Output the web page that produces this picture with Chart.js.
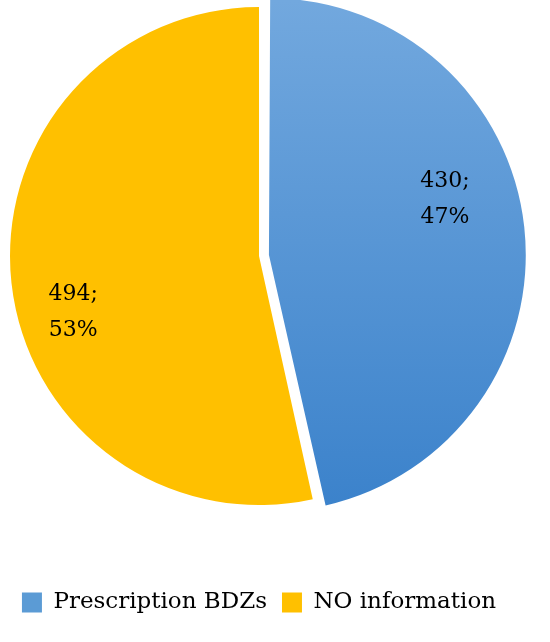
<!DOCTYPE html>
<html>
<head>
<meta charset="utf-8">
<script src="https://cdn.jsdelivr.net/npm/chart.js@4/dist/chart.umd.min.js"></script>
<style>
  html, body { margin: 0; padding: 0; background: #fff; }
</style>
</head>
<body>
<canvas id="pie" width="550" height="642"></canvas>
<script>
// data
const categories = ['Prescription BDZs', 'NO information'];
const counts = [430, 494];
const percents = [47, 53];

const legendColors = ['#5b9bd5', '#ffc000'];
const FONT = '"DejaVu Serif", "Liberation Serif", serif';

// blue slice has a soft top-to-bottom gradient
const sliceFill = (ctx) => {
  if (ctx.dataIndex !== 0) return legendColors[1];
  const area = ctx.chart.chartArea;
  if (!area) return legendColors[0];
  const g = ctx.chart.ctx.createLinearGradient(0, area.top, 0, area.bottom);
  g.addColorStop(0, '#72a8de');
  g.addColorStop(1, '#3b82cb');
  return g;
};

// "430;" / "47%" labels inside each slice
const sliceLabels = {
  id: 'sliceLabels',
  afterDatasetsDraw(chart) {
    const meta = chart.getDatasetMeta(0);
    const c = chart.ctx;
    c.save();
    c.font = '22px ' + FONT;
    c.fillStyle = '#000';
    c.textAlign = 'center';
    c.textBaseline = 'middle';
    meta.data.forEach((arc, i) => {
      const p = arc.getProps(['x', 'y', 'startAngle', 'endAngle', 'outerRadius'], true);
      const mid = (p.startAngle + p.endAngle) / 2 - 0.185;
      const r = p.outerRadius * 0.78;
      const lx = p.x + Math.cos(mid) * r;
      const ly = p.y + Math.sin(mid) * r;
      c.fillText(counts[i] + ';', lx, ly - 18);
      c.fillText(percents[i] + '%', lx, ly + 18);
    });
    c.restore();
  }
};

new Chart(document.getElementById('pie').getContext('2d'), {
  type: 'pie',
  data: {
    labels: categories,
    datasets: [{
      data: counts,
      backgroundColor: sliceFill,
      borderWidth: 0,
      offset: [40, 0]
    }]
  },
  options: {
    responsive: false,
    animation: false,
    devicePixelRatio: 1,
    radius: 249,
    layout: { padding: { top: 2, left: 0, right: 32, bottom: 18 } },
    plugins: {
      tooltip: { enabled: false },
      legend: {
        position: 'bottom',
        title: { display: true, text: ' ', padding: { top: 54, bottom: 0 }, font: { size: 10 } },
        labels: {
          boxWidth: 20,
          boxHeight: 20,
          padding: 15,
          color: '#000',
          font: { size: 23, family: FONT },
          generateLabels: () => categories.map((text, i) => ({
            text,
            fillStyle: legendColors[i],
            strokeStyle: legendColors[i],
            fontColor: '#000',
            lineWidth: 0,
            hidden: false,
            index: i
          }))
        }
      }
    }
  },
  plugins: [sliceLabels]
});
</script>
</body>
</html>
